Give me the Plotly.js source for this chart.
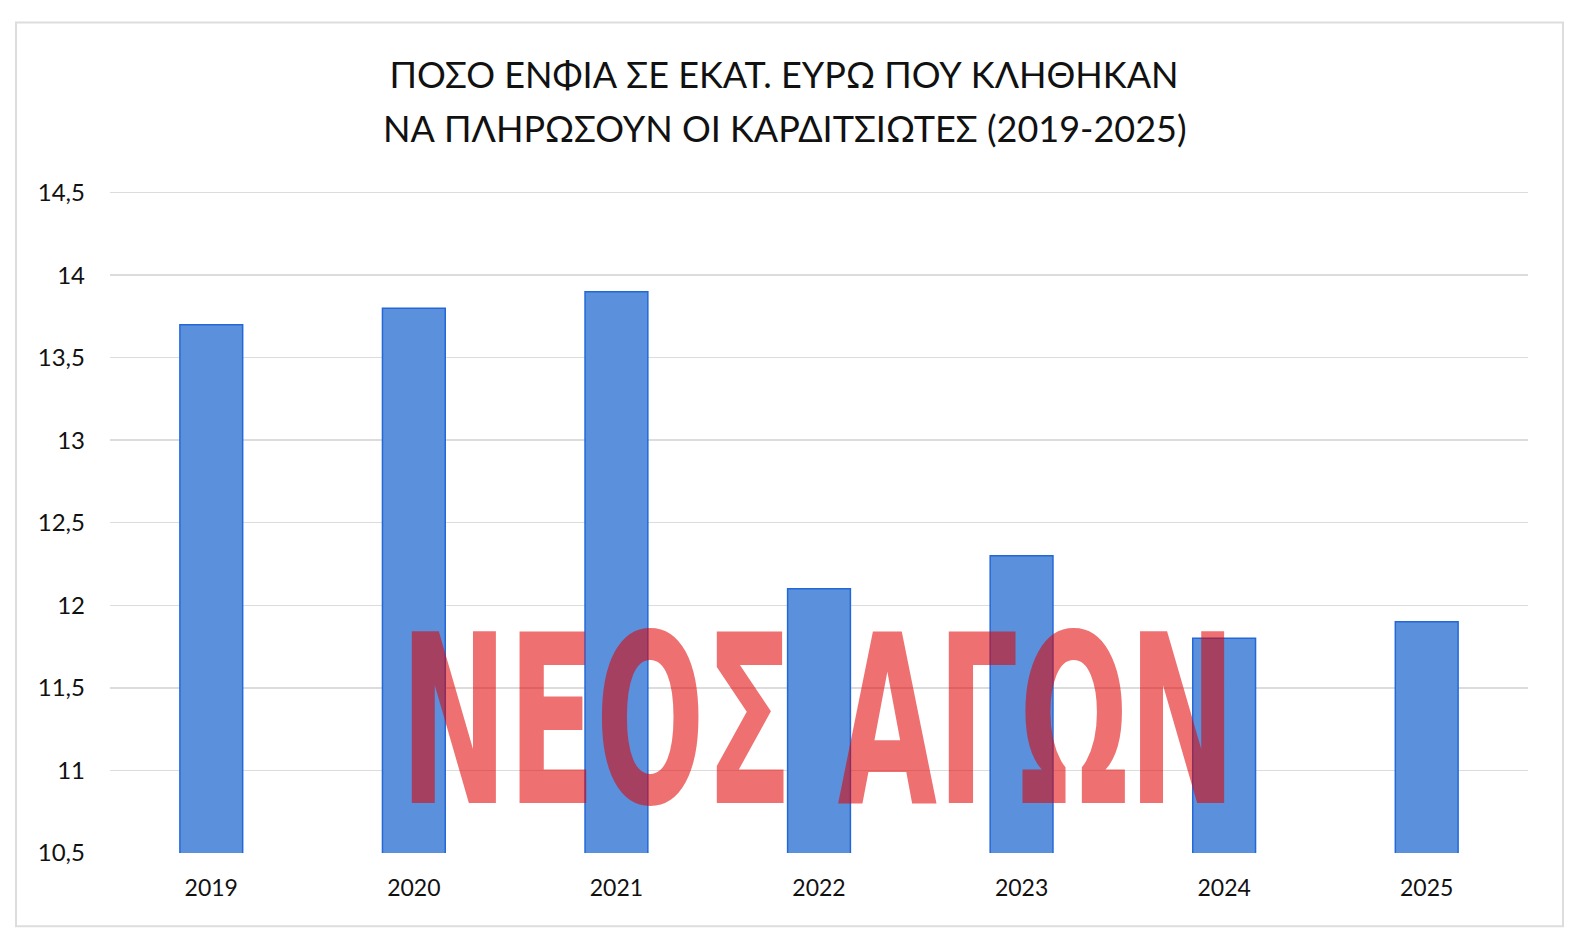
<!DOCTYPE html>
<html>
<head>
<meta charset="utf-8">
<script src="https://cdn.plot.ly/plotly-3.0.1.min.js"></script>
<style>html,body{margin:0;padding:0;background:#fff;}#chart{width:1575px;height:945px;}</style>
</head>
<body>
<div id="chart"></div>
<script>
const years = ['2019', '2020', '2021', '2022', '2023', '2024', '2025'];
const amounts = [13.7, 13.8, 13.9, 12.1, 12.3, 11.8, 11.9];
const titleLines = ['ΠΟΣΟ ΕΝΦΙΑ ΣΕ ΕΚΑΤ. ΕΥΡΩ ΠΟΥ ΚΛΗΘΗΚΑΝ', 'ΝΑ ΠΛΗΡΩΣΟΥΝ ΟΙ ΚΑΡΔΙΤΣΙΩΤΕΣ (2019-2025)'];
const watermark = 'ΝΕΟΣ ΑΓΩΝ';

const titleFont = {family: 'Lato, "Open Sans", sans-serif', size: 36, color: '#111'};

// plot area: 14.5 at y=193, 10.5 at y=853  -> 165 px per unit
const yMin = 10.499, yMax = 14.51;
const pxPerUnit = 660 / 4;
const topM = 193 - (yMax - 14.5) * pxPerUnit;
const botM = 945 - 853 - (10.5 - yMin) * pxPerUnit;

const layout = {
  width: 1575, height: 945,
  paper_bgcolor: '#ffffff', plot_bgcolor: '#ffffff',
  separators: ',.',
  margin: {l: 110, r: 47, t: topM, b: botM},
  showlegend: false,
  bargap: 0.69,
  font: {family: 'Lato, "Open Sans", sans-serif', color: '#000'},
  title: {
    text: titleLines[0],
    font: titleFont,
    x: 784 / 1575, xanchor: 'center', xref: 'container',
    y: 1 - 75/945, yanchor: 'middle', yref: 'container'
  },
  xaxis: {
    type: 'category',
    showgrid: false, zeroline: false, showline: false, ticks: '',
    tickfont: {size: 23, color: '#111'},
    ticklabelstandoff: 19
  },
  yaxis: {
    range: [yMin, yMax], dtick: 0.5, tick0: 10.5,
    showgrid: true, gridcolor: '#dcdcdc', gridwidth: 1.5,
    zeroline: false, showline: false, ticks: '',
    tickfont: {size: 24, color: '#111'},
    ticklabelstandoff: 24
  },
  shapes: [{
    type: 'rect', xref: 'paper', yref: 'paper',
    x0: -94/1418, x1: 1 + 35/1418, y0: -73/660, y1: 1 + 168/660,
    line: {color: '#dddddd', width: 2}, fillcolor: 'rgba(0,0,0,0)', layer: 'below'
  }],
  annotations: [{
    text: titleLines[1], xref: 'paper', yref: 'paper',
    x: (785 - 110) / 1418, y: (853 - 130) / 660, xanchor: 'center', yanchor: 'middle',
    showarrow: false, font: titleFont
  }, {
    text: watermark, xref: 'paper', yref: 'paper',
    x: 0.4993, y: 0.199, xanchor: 'center', yanchor: 'middle',
    showarrow: false,
    font: {family: '"Liberation Sans Narrow", "DejaVu Sans Condensed", sans-serif', size: 235, weight: 900, color: 'rgba(225,0,0,0.56)'}
  }]
};

const trace = {
  type: 'bar', x: years, y: amounts,
  marker: {color: '#5b91dc', line: {color: '#2468d8', width: 1.5}}
};

Plotly.newPlot('chart', [trace], layout, {displayModeBar: false, staticPlot: true}).then(() => {
  const texts = document.querySelectorAll('.annotation-text');
  const t = texts[texts.length - 1];
  if (t) {
    const bb = t.getBBox();
    const target = 836;
    const sx = target / bb.width;
    const cx = bb.x + bb.width / 2;
    t.setAttribute('transform', 'translate(' + cx + ',0) scale(' + sx + ',1) translate(' + (-cx) + ',0)');
  }
});
</script>
</body>
</html>
